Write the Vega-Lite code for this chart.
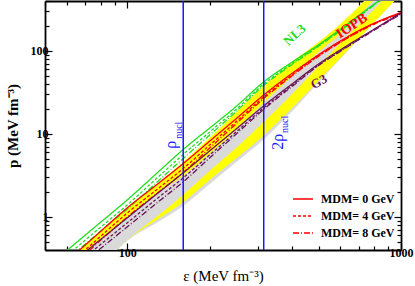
{
  "$schema": "https://vega.github.io/schema/vega-lite/v6.json",
  "width": 356,
  "height": 249,
  "autosize": {"type": "none"},
  "padding": {"left": 45, "top": 1, "right": 14, "bottom": 36},
  "background": "white",
  "config": {
    "view": {"stroke": null},
    "axis": {
      "labelFont": "Liberation Serif", "labelFontWeight": "bold", "labelFontSize": 12, "labelColor": "black",
      "titleFont": "Liberation Serif", "titleFontSize": 15, "titleColor": "black", "titleFontWeight": "normal",
      "domainColor": "black", "domainWidth": 1.8, "tickColor": "black", "tickWidth": 1.2,
      "grid": false, "zindex": 1, "labelFlush": false, "labelOverlap": false, "labelBound": false
    }
  },
  "datasets": {
    "bands": [
      {"eps": 60, "yu": 0.291, "gu": 0.25, "gl": 0.12, "yl": 0.12, "glo": 0.118},
      {"eps": 70, "yu": 0.456, "gu": 0.381, "gl": 0.175, "yl": 0.175, "glo": 0.171},
      {"eps": 80, "yu": 0.682, "gu": 0.531, "gl": 0.266, "yl": 0.266, "glo": 0.259},
      {"eps": 100, "yu": 1.29, "gu": 0.978, "gl": 0.531, "yl": 0.531, "glo": 0.517},
      {"eps": 130, "yu": 2.55, "gu": 1.97, "gl": 1.05, "yl": 0.95, "glo": 0.875},
      {"eps": 160, "yu": 4.62, "gu": 3.13, "gl": 1.85, "yl": 1.5, "glo": 1.36},
      {"eps": 200, "yu": 8.98, "gu": 5.76, "gl": 3.6, "yl": 2.8, "glo": 2.5},
      {"eps": 250, "yu": 18.4, "gu": 11.2, "gl": 6.8, "yl": 5.1, "glo": 4.6},
      {"eps": 315, "yu": 37.9, "gu": 23.7, "gl": 14.0, "yl": 9.6, "glo": 8.6},
      {"eps": 400, "yu": 73.7, "gu": 50.0, "gl": 30.4, "yl": 20.5, "glo": 18.8},
      {"eps": 500, "yu": 128, "gu": 97.3, "gl": 66.0, "yl": 44.0, "glo": 42.0},
      {"eps": 600, "yu": 211, "gu": 160, "gl": 125, "yl": 82.0, "glo": 80.0},
      {"eps": 800, "yu": 542, "gu": 423, "gl": 320, "yl": 223, "glo": 223},
      {"eps": 1000, "yu": 1245, "gu": 943, "gl": 715, "yl": 485, "glo": 485}
    ],
    "curves": [
      {"model": "NL3", "mdm": "MDM= 0 GeV", "eps": 55, "p": 0.308},
      {"model": "NL3", "mdm": "MDM= 0 GeV", "eps": 60, "p": 0.392},
      {"model": "NL3", "mdm": "MDM= 0 GeV", "eps": 70, "p": 0.601},
      {"model": "NL3", "mdm": "MDM= 0 GeV", "eps": 80, "p": 0.868},
      {"model": "NL3", "mdm": "MDM= 0 GeV", "eps": 100, "p": 1.61},
      {"model": "NL3", "mdm": "MDM= 0 GeV", "eps": 130, "p": 3.51},
      {"model": "NL3", "mdm": "MDM= 0 GeV", "eps": 160, "p": 6.51},
      {"model": "NL3", "mdm": "MDM= 0 GeV", "eps": 200, "p": 11.8},
      {"model": "NL3", "mdm": "MDM= 0 GeV", "eps": 250, "p": 21.5},
      {"model": "NL3", "mdm": "MDM= 0 GeV", "eps": 315, "p": 42.4},
      {"model": "NL3", "mdm": "MDM= 0 GeV", "eps": 400, "p": 73.5},
      {"model": "NL3", "mdm": "MDM= 0 GeV", "eps": 500, "p": 119},
      {"model": "NL3", "mdm": "MDM= 0 GeV", "eps": 600, "p": 182},
      {"model": "NL3", "mdm": "MDM= 0 GeV", "eps": 800, "p": 370},
      {"model": "NL3", "mdm": "MDM= 0 GeV", "eps": 1000, "p": 617},
      {"model": "NL3", "mdm": "MDM= 4 GeV", "eps": 55, "p": 0.268},
      {"model": "NL3", "mdm": "MDM= 4 GeV", "eps": 60, "p": 0.341},
      {"model": "NL3", "mdm": "MDM= 4 GeV", "eps": 70, "p": 0.523},
      {"model": "NL3", "mdm": "MDM= 4 GeV", "eps": 80, "p": 0.756},
      {"model": "NL3", "mdm": "MDM= 4 GeV", "eps": 100, "p": 1.4},
      {"model": "NL3", "mdm": "MDM= 4 GeV", "eps": 130, "p": 3.06},
      {"model": "NL3", "mdm": "MDM= 4 GeV", "eps": 160, "p": 5.67},
      {"model": "NL3", "mdm": "MDM= 4 GeV", "eps": 200, "p": 10.6},
      {"model": "NL3", "mdm": "MDM= 4 GeV", "eps": 250, "p": 19.8},
      {"model": "NL3", "mdm": "MDM= 4 GeV", "eps": 315, "p": 40.1},
      {"model": "NL3", "mdm": "MDM= 4 GeV", "eps": 400, "p": 70.5},
      {"model": "NL3", "mdm": "MDM= 4 GeV", "eps": 500, "p": 116},
      {"model": "NL3", "mdm": "MDM= 4 GeV", "eps": 600, "p": 177},
      {"model": "NL3", "mdm": "MDM= 4 GeV", "eps": 800, "p": 365},
      {"model": "NL3", "mdm": "MDM= 4 GeV", "eps": 1000, "p": 608},
      {"model": "NL3", "mdm": "MDM= 8 GeV", "eps": 55, "p": 0.24},
      {"model": "NL3", "mdm": "MDM= 8 GeV", "eps": 60, "p": 0.305},
      {"model": "NL3", "mdm": "MDM= 8 GeV", "eps": 70, "p": 0.468},
      {"model": "NL3", "mdm": "MDM= 8 GeV", "eps": 80, "p": 0.676},
      {"model": "NL3", "mdm": "MDM= 8 GeV", "eps": 100, "p": 1.25},
      {"model": "NL3", "mdm": "MDM= 8 GeV", "eps": 130, "p": 2.73},
      {"model": "NL3", "mdm": "MDM= 8 GeV", "eps": 160, "p": 5.07},
      {"model": "NL3", "mdm": "MDM= 8 GeV", "eps": 200, "p": 9.72},
      {"model": "NL3", "mdm": "MDM= 8 GeV", "eps": 250, "p": 18.7},
      {"model": "NL3", "mdm": "MDM= 8 GeV", "eps": 315, "p": 38.5},
      {"model": "NL3", "mdm": "MDM= 8 GeV", "eps": 400, "p": 68.6},
      {"model": "NL3", "mdm": "MDM= 8 GeV", "eps": 500, "p": 114},
      {"model": "NL3", "mdm": "MDM= 8 GeV", "eps": 600, "p": 175},
      {"model": "NL3", "mdm": "MDM= 8 GeV", "eps": 800, "p": 360},
      {"model": "NL3", "mdm": "MDM= 8 GeV", "eps": 1000, "p": 600},
      {"model": "IOPB", "mdm": "MDM= 0 GeV", "eps": 55, "p": 0.226},
      {"model": "IOPB", "mdm": "MDM= 0 GeV", "eps": 60, "p": 0.291},
      {"model": "IOPB", "mdm": "MDM= 0 GeV", "eps": 70, "p": 0.456},
      {"model": "IOPB", "mdm": "MDM= 0 GeV", "eps": 80, "p": 0.675},
      {"model": "IOPB", "mdm": "MDM= 0 GeV", "eps": 100, "p": 1.29},
      {"model": "IOPB", "mdm": "MDM= 0 GeV", "eps": 130, "p": 2.55},
      {"model": "IOPB", "mdm": "MDM= 0 GeV", "eps": 160, "p": 4.4},
      {"model": "IOPB", "mdm": "MDM= 0 GeV", "eps": 200, "p": 8.21},
      {"model": "IOPB", "mdm": "MDM= 0 GeV", "eps": 250, "p": 15.3},
      {"model": "IOPB", "mdm": "MDM= 0 GeV", "eps": 315, "p": 29.5},
      {"model": "IOPB", "mdm": "MDM= 0 GeV", "eps": 400, "p": 53.8},
      {"model": "IOPB", "mdm": "MDM= 0 GeV", "eps": 500, "p": 90.0},
      {"model": "IOPB", "mdm": "MDM= 0 GeV", "eps": 600, "p": 132},
      {"model": "IOPB", "mdm": "MDM= 0 GeV", "eps": 800, "p": 217},
      {"model": "IOPB", "mdm": "MDM= 0 GeV", "eps": 1000, "p": 291},
      {"model": "IOPB", "mdm": "MDM= 4 GeV", "eps": 55, "p": 0.197},
      {"model": "IOPB", "mdm": "MDM= 4 GeV", "eps": 60, "p": 0.253},
      {"model": "IOPB", "mdm": "MDM= 4 GeV", "eps": 70, "p": 0.397},
      {"model": "IOPB", "mdm": "MDM= 4 GeV", "eps": 80, "p": 0.588},
      {"model": "IOPB", "mdm": "MDM= 4 GeV", "eps": 100, "p": 1.12},
      {"model": "IOPB", "mdm": "MDM= 4 GeV", "eps": 130, "p": 2.22},
      {"model": "IOPB", "mdm": "MDM= 4 GeV", "eps": 160, "p": 3.83},
      {"model": "IOPB", "mdm": "MDM= 4 GeV", "eps": 200, "p": 7.35},
      {"model": "IOPB", "mdm": "MDM= 4 GeV", "eps": 250, "p": 14.1},
      {"model": "IOPB", "mdm": "MDM= 4 GeV", "eps": 315, "p": 27.9},
      {"model": "IOPB", "mdm": "MDM= 4 GeV", "eps": 400, "p": 51.6},
      {"model": "IOPB", "mdm": "MDM= 4 GeV", "eps": 500, "p": 87.6},
      {"model": "IOPB", "mdm": "MDM= 4 GeV", "eps": 600, "p": 128},
      {"model": "IOPB", "mdm": "MDM= 4 GeV", "eps": 800, "p": 214},
      {"model": "IOPB", "mdm": "MDM= 4 GeV", "eps": 1000, "p": 287},
      {"model": "IOPB", "mdm": "MDM= 8 GeV", "eps": 55, "p": 0.176},
      {"model": "IOPB", "mdm": "MDM= 8 GeV", "eps": 60, "p": 0.227},
      {"model": "IOPB", "mdm": "MDM= 8 GeV", "eps": 70, "p": 0.355},
      {"model": "IOPB", "mdm": "MDM= 8 GeV", "eps": 80, "p": 0.526},
      {"model": "IOPB", "mdm": "MDM= 8 GeV", "eps": 100, "p": 1.0},
      {"model": "IOPB", "mdm": "MDM= 8 GeV", "eps": 130, "p": 1.99},
      {"model": "IOPB", "mdm": "MDM= 8 GeV", "eps": 160, "p": 3.43},
      {"model": "IOPB", "mdm": "MDM= 8 GeV", "eps": 200, "p": 6.77},
      {"model": "IOPB", "mdm": "MDM= 8 GeV", "eps": 250, "p": 13.3},
      {"model": "IOPB", "mdm": "MDM= 8 GeV", "eps": 315, "p": 26.8},
      {"model": "IOPB", "mdm": "MDM= 8 GeV", "eps": 400, "p": 50.2},
      {"model": "IOPB", "mdm": "MDM= 8 GeV", "eps": 500, "p": 86.3},
      {"model": "IOPB", "mdm": "MDM= 8 GeV", "eps": 600, "p": 127},
      {"model": "IOPB", "mdm": "MDM= 8 GeV", "eps": 800, "p": 211},
      {"model": "IOPB", "mdm": "MDM= 8 GeV", "eps": 1000, "p": 283},
      {"model": "G3", "mdm": "MDM= 0 GeV", "eps": 55, "p": 0.198},
      {"model": "G3", "mdm": "MDM= 0 GeV", "eps": 60, "p": 0.25},
      {"model": "G3", "mdm": "MDM= 0 GeV", "eps": 70, "p": 0.377},
      {"model": "G3", "mdm": "MDM= 0 GeV", "eps": 80, "p": 0.539},
      {"model": "G3", "mdm": "MDM= 0 GeV", "eps": 100, "p": 0.978},
      {"model": "G3", "mdm": "MDM= 0 GeV", "eps": 130, "p": 1.97},
      {"model": "G3", "mdm": "MDM= 0 GeV", "eps": 160, "p": 3.4},
      {"model": "G3", "mdm": "MDM= 0 GeV", "eps": 200, "p": 6.26},
      {"model": "G3", "mdm": "MDM= 0 GeV", "eps": 250, "p": 11.5},
      {"model": "G3", "mdm": "MDM= 0 GeV", "eps": 315, "p": 21.8},
      {"model": "G3", "mdm": "MDM= 0 GeV", "eps": 400, "p": 40.1},
      {"model": "G3", "mdm": "MDM= 0 GeV", "eps": 500, "p": 69.8},
      {"model": "G3", "mdm": "MDM= 0 GeV", "eps": 600, "p": 103},
      {"model": "G3", "mdm": "MDM= 0 GeV", "eps": 800, "p": 184},
      {"model": "G3", "mdm": "MDM= 0 GeV", "eps": 1000, "p": 287},
      {"model": "G3", "mdm": "MDM= 4 GeV", "eps": 55, "p": 0.172},
      {"model": "G3", "mdm": "MDM= 4 GeV", "eps": 60, "p": 0.218},
      {"model": "G3", "mdm": "MDM= 4 GeV", "eps": 70, "p": 0.328},
      {"model": "G3", "mdm": "MDM= 4 GeV", "eps": 80, "p": 0.469},
      {"model": "G3", "mdm": "MDM= 4 GeV", "eps": 100, "p": 0.852},
      {"model": "G3", "mdm": "MDM= 4 GeV", "eps": 130, "p": 1.72},
      {"model": "G3", "mdm": "MDM= 4 GeV", "eps": 160, "p": 2.96},
      {"model": "G3", "mdm": "MDM= 4 GeV", "eps": 200, "p": 5.6},
      {"model": "G3", "mdm": "MDM= 4 GeV", "eps": 250, "p": 10.6},
      {"model": "G3", "mdm": "MDM= 4 GeV", "eps": 315, "p": 20.6},
      {"model": "G3", "mdm": "MDM= 4 GeV", "eps": 400, "p": 38.5},
      {"model": "G3", "mdm": "MDM= 4 GeV", "eps": 500, "p": 67.9},
      {"model": "G3", "mdm": "MDM= 4 GeV", "eps": 600, "p": 100},
      {"model": "G3", "mdm": "MDM= 4 GeV", "eps": 800, "p": 181},
      {"model": "G3", "mdm": "MDM= 4 GeV", "eps": 1000, "p": 283},
      {"model": "G3", "mdm": "MDM= 8 GeV", "eps": 55, "p": 0.154},
      {"model": "G3", "mdm": "MDM= 8 GeV", "eps": 60, "p": 0.195},
      {"model": "G3", "mdm": "MDM= 8 GeV", "eps": 70, "p": 0.294},
      {"model": "G3", "mdm": "MDM= 8 GeV", "eps": 80, "p": 0.42},
      {"model": "G3", "mdm": "MDM= 8 GeV", "eps": 100, "p": 0.762},
      {"model": "G3", "mdm": "MDM= 8 GeV", "eps": 130, "p": 1.53},
      {"model": "G3", "mdm": "MDM= 8 GeV", "eps": 160, "p": 2.65},
      {"model": "G3", "mdm": "MDM= 8 GeV", "eps": 200, "p": 5.16},
      {"model": "G3", "mdm": "MDM= 8 GeV", "eps": 250, "p": 10.0},
      {"model": "G3", "mdm": "MDM= 8 GeV", "eps": 315, "p": 19.8},
      {"model": "G3", "mdm": "MDM= 8 GeV", "eps": 400, "p": 37.4},
      {"model": "G3", "mdm": "MDM= 8 GeV", "eps": 500, "p": 66.9},
      {"model": "G3", "mdm": "MDM= 8 GeV", "eps": 600, "p": 98.8},
      {"model": "G3", "mdm": "MDM= 8 GeV", "eps": 800, "p": 179},
      {"model": "G3", "mdm": "MDM= 8 GeV", "eps": 1000, "p": 279}
    ],
    "nuc": [{"eps": 160}, {"eps": 315}]
  },
  "layer": [
    {
      "layer": [
        {
          "data": {"name": "bands"},
          "mark": {"type": "area", "color": "#dadada", "clip": true, "interpolate": "monotone"},
          "encoding": {
            "x": {"field": "eps", "type": "quantitative", "scale": {"type": "log", "domain": [50, 1000], "nice": false},
              "axis": {"orient": "bottom", "title": "ε (MeV fm⁻³)", "titlePadding": 7,
                "values": [50, 60, 70, 80, 90, 100, 200, 300, 400, 500, 600, 700, 800, 900, 1000],
                "labelExpr": "indexof([100, 1000], datum.value) >= 0 ? format(datum.value, 'd') : ''",
                "tickSize": {"condition": {"test": "indexof([1, 10, 100, 1000], datum.value) >= 0", "value": -7}, "value": -4},
                "labelPadding": 4}},
            "y": {"field": "gu", "type": "quantitative", "scale": {"type": "log", "domain": [0.4, 400], "nice": false},
              "axis": {"orient": "left", "title": "p (MeV fm⁻³)", "titleFontWeight": "bold", "titlePadding": 10,
                "values": [0.4, 0.5, 0.6, 0.7, 0.8, 0.9, 1, 2, 3, 4, 5, 6, 7, 8, 9, 10, 20, 30, 40, 50, 60, 70, 80, 90, 100, 200, 300, 400],
                "labelExpr": "indexof([1, 10, 100], datum.value) >= 0 ? format(datum.value, 'd') : ''",
                "tickSize": {"condition": {"test": "indexof([1, 10, 100, 1000], datum.value) >= 0", "value": -7}, "value": -4},
                "labelPadding": 4}},
            "y2": {"field": "glo"}
          }
        },
        {
          "data": {"name": "bands"},
          "mark": {"type": "area", "color": "#ffff00", "clip": true, "interpolate": "monotone"},
          "encoding": {
            "x": {"field": "eps", "type": "quantitative", "scale": {"type": "log", "domain": [50, 1000], "nice": false}},
            "y": {"field": "yu", "type": "quantitative", "scale": {"type": "log", "domain": [0.4, 400], "nice": false}},
            "y2": {"field": "yl"}
          }
        },
        {
          "data": {"name": "bands"},
          "mark": {"type": "area", "color": "#dadada", "clip": true, "interpolate": "monotone"},
          "encoding": {
            "x": {"field": "eps", "type": "quantitative", "scale": {"type": "log", "domain": [50, 1000], "nice": false}},
            "y": {"field": "gu", "type": "quantitative", "scale": {"type": "log", "domain": [0.4, 400], "nice": false}},
            "y2": {"field": "gl"}
          }
        },
        {
          "data": {"name": "curves"},
          "mark": {"type": "line", "strokeWidth": 1.3, "clip": true, "interpolate": "monotone"},
          "encoding": {
            "x": {"field": "eps", "type": "quantitative", "scale": {"type": "log", "domain": [50, 1000], "nice": false}},
            "y": {"field": "p", "type": "quantitative", "scale": {"type": "log", "domain": [0.4, 400], "nice": false}},
            "color": {"field": "model", "type": "nominal", "scale": {"domain": ["NL3", "IOPB", "G3"], "range": ["#22dd22", "#ff0000", "#6b1659"]}, "legend": null},
            "strokeDash": {"field": "mdm", "type": "nominal",
              "scale": {"domain": ["MDM= 0 GeV", "MDM= 4 GeV", "MDM= 8 GeV"], "range": [[1, 0], [3, 2], [6, 2, 1, 2]]},
              "legend": {"title": null, "orient": "none", "legendX": 247, "legendY": 187, "padding": 0,
                "symbolType": "stroke", "symbolStrokeColor": "#ff0000", "symbolSize": 400, "symbolStrokeWidth": 1.3,
                "labelFont": "Liberation Serif", "labelFontWeight": "bold", "labelFontSize": 12, "labelColor": "black",
                "labelOffset": 7, "rowPadding": -4}}
          }
        },
        {
          "data": {"name": "nuc"},
          "mark": {"type": "rule", "color": "#1515ff", "strokeWidth": 1.5},
          "encoding": {
            "x": {"field": "eps", "type": "quantitative", "scale": {"type": "log", "domain": [50, 1000], "nice": false}}
          }
        },
        {
          "data": {"values": [{"t": "ρ", "eps": 144, "p": 6.62}, {"t": "2ρ", "eps": 355, "p": 6.44}]},
          "mark": {"type": "text", "font": "Liberation Serif", "fontSize": 16, "color": "#1515ff", "angle": -90, "align": "left", "baseline": "middle"},
          "encoding": {
            "x": {"field": "eps", "type": "quantitative", "scale": {"type": "log", "domain": [50, 1000], "nice": false}},
            "y": {"field": "p", "type": "quantitative", "scale": {"type": "log", "domain": [0.4, 400], "nice": false}},
            "text": {"field": "t"}
          }
        },
        {
          "data": {"values": [{"t": "nucl", "eps": 154, "p": 8.73}, {"t": "nucl", "eps": 376, "p": 10.3}]},
          "mark": {"type": "text", "font": "Liberation Serif", "fontSize": 10, "color": "#1515ff", "angle": -90, "align": "left", "baseline": "middle"},
          "encoding": {
            "x": {"field": "eps", "type": "quantitative", "scale": {"type": "log", "domain": [50, 1000], "nice": false}},
            "y": {"field": "p", "type": "quantitative", "scale": {"type": "log", "domain": [0.4, 400], "nice": false}},
            "text": {"field": "t"}
          }
        },
        {
          "data": {"values": [{"t": "NL3", "eps": 409, "p": 156}]},
          "mark": {"type": "text", "font": "Liberation Serif", "fontWeight": "bold", "fontSize": 13, "color": "#22dd22", "angle": -42, "align": "center", "baseline": "middle"},
          "encoding": {
            "x": {"field": "eps", "type": "quantitative", "scale": {"type": "log", "domain": [50, 1000], "nice": false}},
            "y": {"field": "p", "type": "quantitative", "scale": {"type": "log", "domain": [0.4, 400], "nice": false}},
            "text": {"field": "t"}
          }
        },
        {
          "data": {"values": [{"t": "IOPB", "eps": 661, "p": 200}]},
          "mark": {"type": "text", "font": "Liberation Serif", "fontWeight": "bold", "fontSize": 14, "color": "#ff0000", "angle": -33, "align": "center", "baseline": "middle"},
          "encoding": {
            "x": {"field": "eps", "type": "quantitative", "scale": {"type": "log", "domain": [50, 1000], "nice": false}},
            "y": {"field": "p", "type": "quantitative", "scale": {"type": "log", "domain": [0.4, 400], "nice": false}},
            "text": {"field": "t"}
          }
        }
      ]
    },
    {
      "data": {"values": [{"t": "G3", "eps": 501, "p": 42.4}]},
      "mark": {"type": "text", "font": "Liberation Serif", "fontWeight": "bold", "fontSize": 13, "color": "#6b1659", "angle": -30, "align": "center", "baseline": "middle"},
      "encoding": {
        "x": {"field": "eps", "type": "quantitative", "scale": {"type": "log", "domain": [50, 1000], "nice": false},
          "axis": {"orient": "top", "title": null, "labels": false,
            "values": [50, 60, 70, 80, 90, 100, 200, 300, 400, 500, 600, 700, 800, 900, 1000],
            "tickSize": {"condition": {"test": "indexof([1, 10, 100, 1000], datum.value) >= 0", "value": -7}, "value": -4}}},
        "y": {"field": "p", "type": "quantitative", "scale": {"type": "log", "domain": [0.4, 400], "nice": false},
          "axis": {"orient": "right", "title": null, "labels": false,
            "values": [0.4, 0.5, 0.6, 0.7, 0.8, 0.9, 1, 2, 3, 4, 5, 6, 7, 8, 9, 10, 20, 30, 40, 50, 60, 70, 80, 90, 100, 200, 300, 400],
            "tickSize": {"condition": {"test": "indexof([1, 10, 100, 1000], datum.value) >= 0", "value": -7}, "value": -4}}},
        "text": {"field": "t"}
      }
    }
  ],
  "resolve": {"scale": {"x": "independent", "y": "independent"}}
}
